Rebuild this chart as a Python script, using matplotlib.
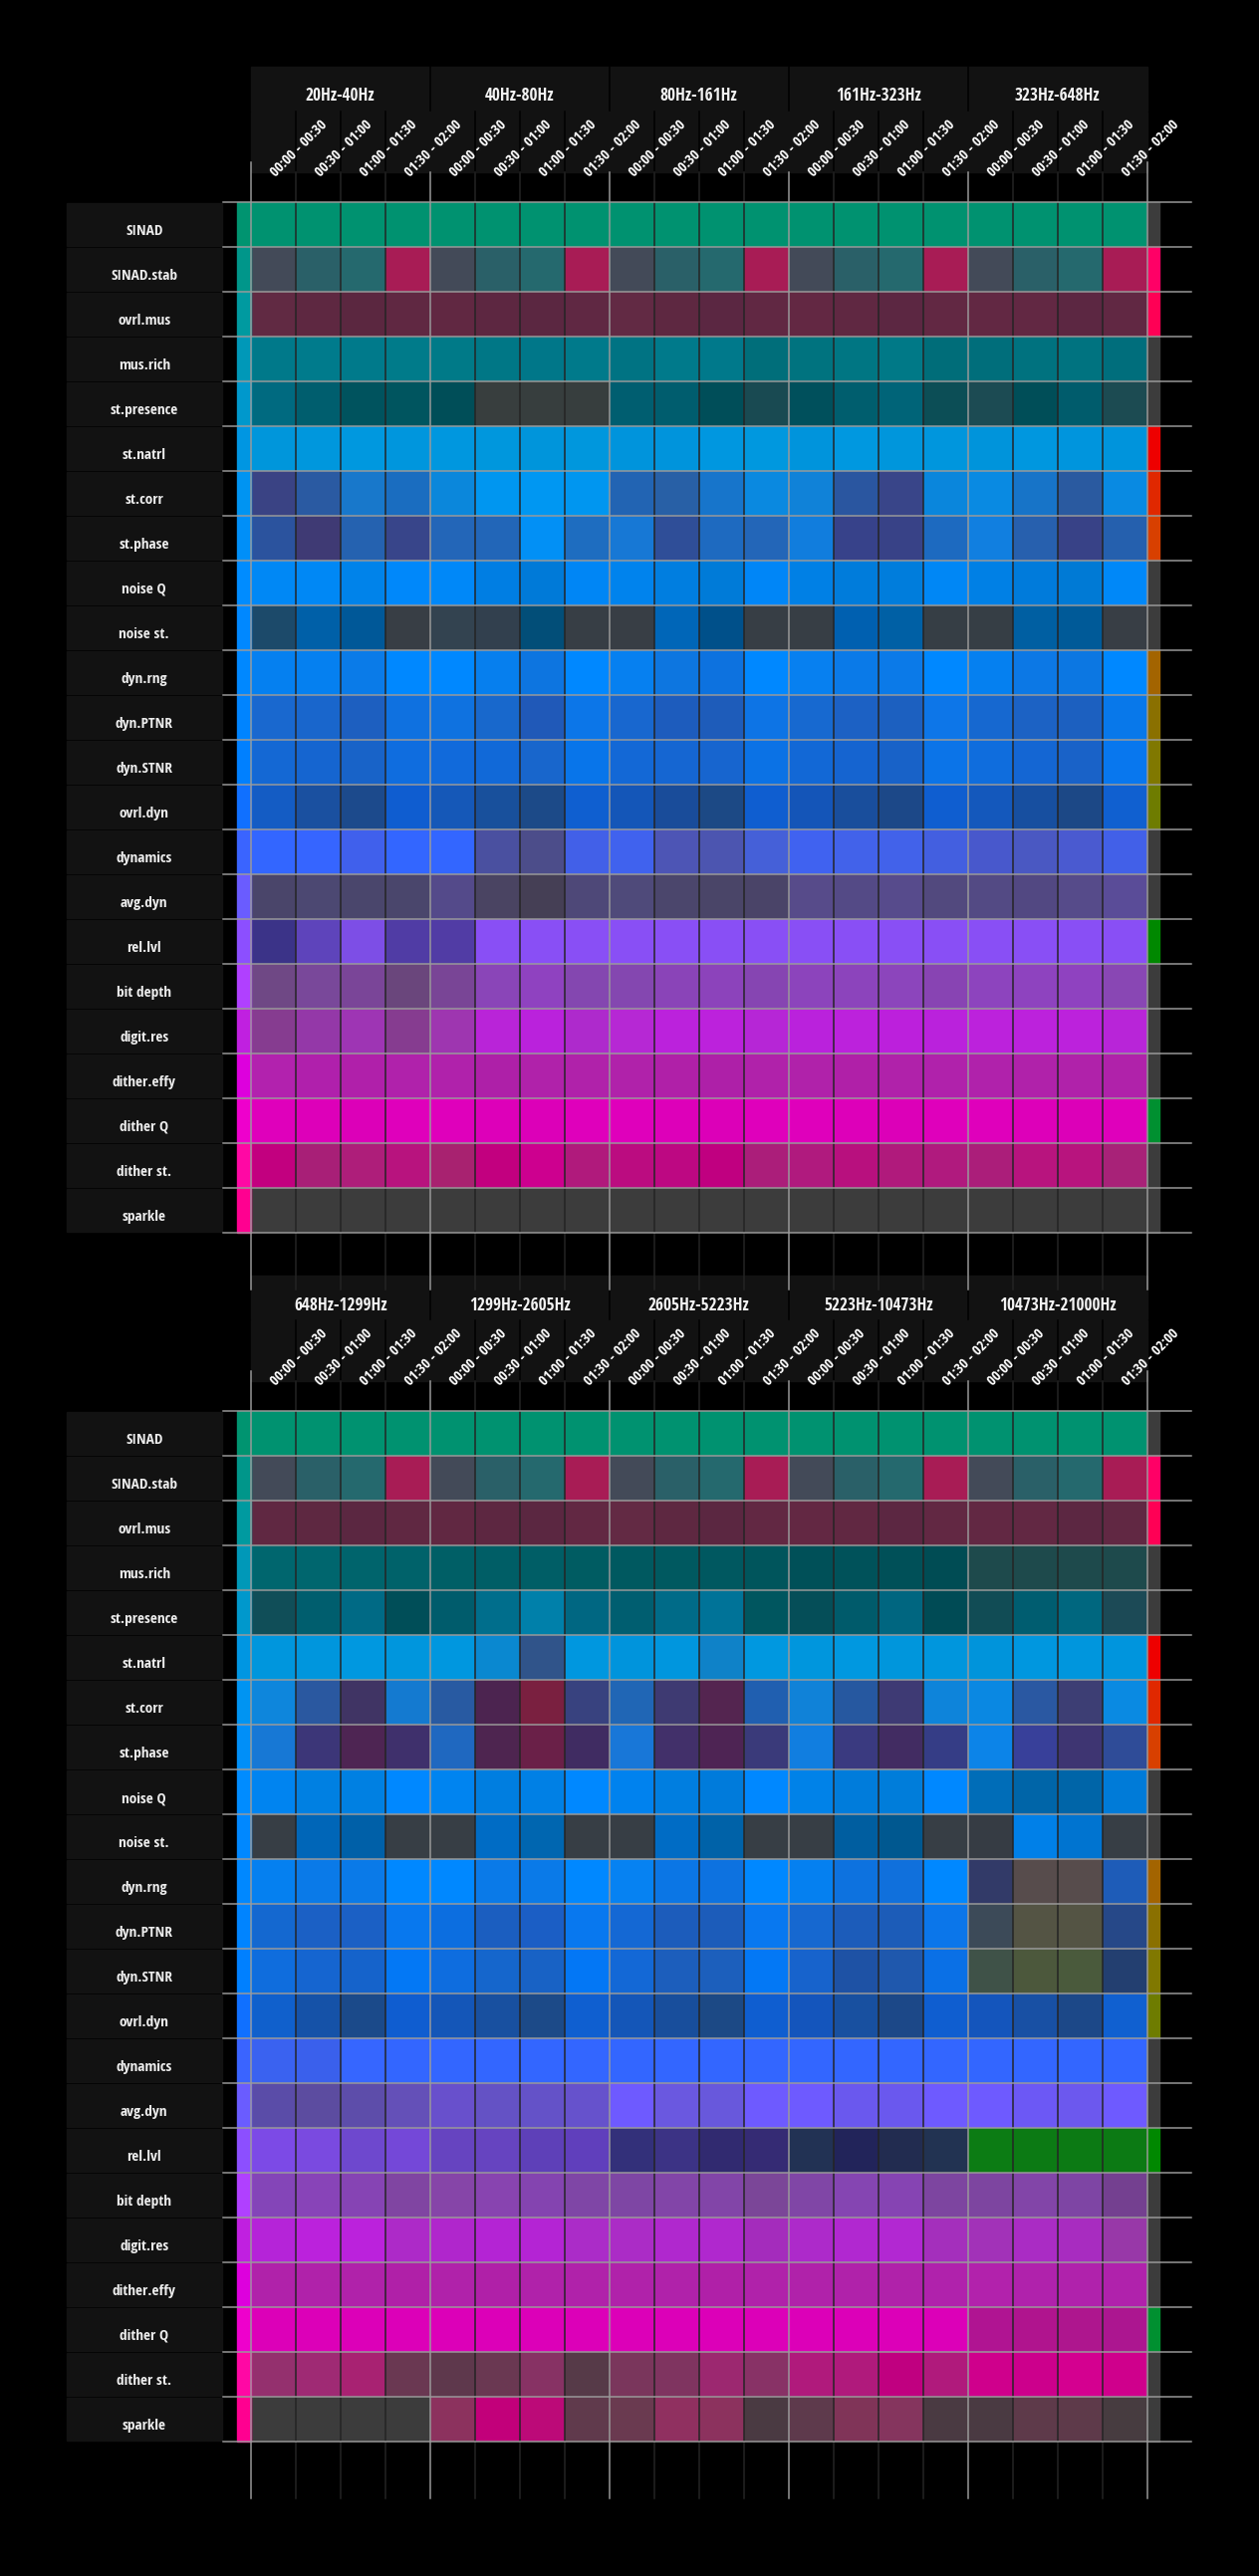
import numpy as np
import matplotlib.pyplot as plt
from matplotlib import font_manager
from matplotlib.colors import to_rgb
from matplotlib.patches import Rectangle

# condensed bold face, the first one that is installed
prefs = ["Open Sans Condensed", "Fira Sans Condensed", "Barlow Condensed", "Asap Condensed"]
bold_names = set()
for f in font_manager.fontManager.ttflist:
    try:
        w = int(f.weight)
    except (TypeError, ValueError):
        w = 700 if "bold" in str(f.weight) else 400
    if w >= 600:
        bold_names.add(f.name)
FONT = next((p for p in prefs if p in bold_names), "DejaVu Sans")
plt.rcParams['font.family'] = [FONT, 'DejaVu Sans']

# ---- data ----
metrics = ["SINAD", "SINAD.stab", "ovrl.mus", "mus.rich", "st.presence", "st.natrl",
           "st.corr", "st.phase", "noise Q", "noise st.", "dyn.rng", "dyn.PTNR",
           "dyn.STNR", "ovrl.dyn", "dynamics", "avg.dyn", "rel.lvl", "bit depth",
           "digit.res", "dither.effy", "dither Q", "dither st.", "sparkle"]

time_slots = ["00:00 - 00:30", "00:30 - 01:00", "01:00 - 01:30", "01:30 - 02:00"]

bands_top = ["20Hz-40Hz", "40Hz-80Hz", "80Hz-161Hz", "161Hz-323Hz", "323Hz-648Hz"]
bands_bottom = ["648Hz-1299Hz", "1299Hz-2605Hz", "2605Hz-5223Hz", "5223Hz-10473Hz",
                "10473Hz-21000Hz"]

# colour of each metric (left strip)
metric_colors = ["#009470", "#00968a", "#009aa0", "#0098b8", "#0098cc", "#0096e2",
                 "#0094f2", "#008ff8", "#008cff", "#0088ff", "#0088ff", "#0084ff",
                 "#0080ff", "#1070ff", "#3a64ff", "#6a5cff", "#8c4fff", "#b040ff",
                 "#c020e0", "#dd00dd", "#ee00cc", "#ff08a4", "#ff0090"]

# flag per metric (right strip)
flag_colors = ["#3c3c3c", "#ff0066", "#ff0055", "#3c3c3c", "#3c3c3c", "#ee0000",
               "#e02800", "#d84000", "#3c3c3c", "#3c3c3c", "#a36400", "#8a7000",
               "#807800", "#6e7c00", "#3c3c3c", "#3c3c3c", "#008800", "#3c3c3c",
               "#3c3c3c", "#3c3c3c", "#009030", "#3c3c3c", "#3c3c3c"]

cells_top = [
    "009270 009270 009270 009270 009270 009270 009270 009270 009270 009270 009270 009270 009270 009270 009270 009270 009270 009270 009270 009270",
    "434a58 2a6068 25696e a81c55 434a58 2a6068 25696e a81c55 434a58 2a6068 25696e a81c55 434a58 2a6068 25696e a81c55 434a58 2a6068 25696e a81c55",
    "612a43 5e2841 5b2740 602842 612842 5d2741 5b2741 602843 622a44 5e2841 5b2742 612843 632843 602842 5c2742 622843 622843 622843 5c2742 612843",
    "00798a 007b8c 007a8b 007b8a 007a88 007786 007789 007a8b 007383 007a8b 00798b 006e7a 00737f 007683 007987 006d79 006e7b 00727f 007380 006e7c",
    "006a80 005e6e 00535e 00555f 004e58 383e3e 373e3e 373e3e 005e70 005d6e 004e59 194a52 00505c 005e6e 006478 0c4e56 1c4b53 004e58 005c6c 1c4b52",
    "0096db 0097dd 0098df 0096dd 0097df 0097dd 0095db 0097dd 0094dc 0094dc 0097e0 0098df 0094dc 0098e0 0096dc 0096dd 0094db 0097df 0095dd 0094dc",
    "3a4384 2a5aa2 1878cb 1a6dc0 0b87db 0096f0 0097f2 0096f0 2264b3 2860a6 1775cb 0a89e0 1082d8 2a56a0 394589 0a86dc 098ae2 1774c8 2a5aa0 098ae2",
    "2b539e 3f3a74 2562b0 38458a 2366b8 2266b8 0290f5 1e6dc0 1778d5 2f4e98 1e6ac0 2366b8 117ddd 37428a 384287 1d6ac0 117fe0 2760ae 384287 2560ae",
    "0088f5 0088f5 0083ea 0088fa 0088f8 007ee3 007ad8 0086f5 0083ed 007ee0 007bd8 0086f7 0080e5 007cdb 007ddc 0087f5 0080e5 007bdb 007ad5 0088f8",
    "1c4a6a 0060a8 005898 383e45 334350 32404e 024e78 373e45 383e45 0066b8 00508a 373e45 373e45 0060b0 0060a5 363e45 363e45 005fa2 005a98 383e45",
    "0580f0 0580f0 0a7be8 0088ff 0088ff 067fee 0d75e0 0088ff 0680f0 0d76e0 0d72df 0088ff 0780f0 0a7ae8 0b7ae8 0088ff 0580f0 0c78e5 0c77e2 0088ff",
    "1968cf 1966cc 1d5fc0 0f71e0 0f72e0 1868cc 2059b8 0c76e8 1867cf 1d5cbd 1e5cba 0d74e5 1769d0 1c61c4 1c60c0 0d76e8 1668d0 1c62c4 1c60c0 0878ea",
    "1468d4 1565d0 1863c8 0f6ddf 116adb 1169d8 1866cc 0875ea 1368d6 1566d2 1765cf 0b72e5 1268d6 1564d0 1862c8 0b74e8 0f6ddd 1466d3 1962c8 0877ee",
    "145cc4 1a50a0 1c4a8c 0f5dd0 1558b8 18509c 1c4a88 0f5fd0 1456b8 194c9a 1c4985 0f5ed0 1455b8 194e9c 1c4888 0f5ed0 1458bc 174fa0 1c4886 1060d0",
    "3366ff 3665ff 4060ec 3366ff 3366ff 4a50a0 4c4d8a 4260e8 4062ee 4d55b5 4c55b0 4560d8 4062f0 4262ea 4262ea 435fe0 4858cc 4a58c2 4a5ad0 4260e8",
    "4a456a 4c4872 4a466c 4a466c 544a8a 4a4462 453f55 4e4878 4f4a7a 4b466c 4a4568 4a4468 574b8a 544a86 574b8c 52497e 534a84 524882 564b8a 5a4c98",
    "3b3388 5e44bb 7d4ee6 503ca5 513ca5 894ff5 894ff5 894ff5 894ff5 894ff5 894ff5 894ff5 894ff5 894ff5 894ff5 894ff5 894ff5 894ff5 894ff5 894ff5",
    "6f4885 79489a 7a4598 6a467c 794596 8a45b8 8f42c0 8447b0 8447b0 8a44b8 8c43bb 8645b2 8c44bc 8c44bc 8c45bc 8844b3 8d44be 8e43bf 8f42c0 8947b4",
    "863c90 9438a8 9e35b4 863c90 9e36b0 b924d8 ba22dc ae2acc b628d4 bb22dc bc22dc b626d6 ba22dc bc22dc bc20dc ba22dc bc22dc bc22dc bc22dc b825d8",
    "b222ae b020ac b020aa b022ab b022ab ae20a8 b022aa b022aa b022aa b020a8 ae20a8 b022aa b022aa b020a8 b022aa b022ab b022ab b022aa b022aa b022aa",
    "df00bb dd00b9 dc00b8 df00bb df00bb dd00b9 dc00b8 df00bb df00bb dd00b9 dc00b8 df00bb df00bb dd00b9 dc00b8 df00bb df00bb dd00b9 dc00b8 df00bb",
    "c2007f a81f77 ae1e7a b8137e a82270 c2007f cd008f b01a7c bb0c80 bd0882 c00080 ab1e7a b01a7e b8107e b01a7c b01a7e ab1e7a b8147e b8147e a82278",
    "3c3c3c 3c3c3c 3c3c3c 3c3c3c 3c3c3c 3c3c3c 3c3c3c 3c3c3c 3c3c3c 3c3c3c 3c3c3c 3c3c3c 3c3c3c 3c3c3c 3c3c3c 3c3c3c 3c3c3c 3c3c3c 3c3c3c 3c3c3c",
]

cells_bottom = [
    "009270 009270 009270 009270 009270 009270 009270 009270 009270 009270 009270 009270 009270 009270 009270 009270 009270 009270 009270 009270",
    "434a58 2a6068 25696e a81c55 434a58 2a6068 25696e a81c55 434a58 2a6068 25696e a81c55 434a58 2a6068 25696e a81c55 434a58 2a6068 25696e a81c55",
    "602842 5e2841 5b2741 602842 612842 5d2741 5b2741 622843 632a44 5e2841 5b2741 622843 632843 612842 5c2742 622843 622843 622843 5c2742 612843",
    "00666e 00666e 00646c 00626a 005f66 005e66 005e66 005c62 005960 005960 005860 00555c 005058 00525a 005058 004c54 1e4a4c 1e4a4c 1e4a4c 1e4a4c",
    "104e58 005e6e 006a85 004e58 005c6c 006e8c 0080aa 006782 005e70 006b88 007398 00565f 054e58 005b6b 006680 004b55 114c55 005d70 00677f 1c4a56",
    "0096dd 0096dd 0098e0 0096dd 0097df 0a88d0 30548a 0097df 0094dc 0096de 0f82c8 0098e0 0096dd 0098e0 0096dc 0096dd 0094db 0097df 0096dd 0095dd",
    "0e86dc 2a58a0 403464 147ad0 285aa2 4c2450 7a2040 38427f 2066b5 3e3a72 542550 205fb0 1082d8 2658a0 3e3a74 0e84da 0a88e2 2a58a2 3d3e74 0a8ae2",
    "1778d5 3c3678 4e2553 3f306c 1f68c0 4e2550 6a2048 402c62 1877d8 42306a 4e2454 3a3a7a 117ee0 3a3a80 422c62 353d86 0c84e8 38409a 3e3572 2f4c98",
    "0084f0 0080e2 0080e2 0088ff 0084f0 007ee0 0080e5 0088ff 0082ee 007ee0 007bdb 0088ff 0082e8 007cdb 007dda 0088ff 006db8 0065a8 0065a8 007bd8",
    "373e45 0066b8 0060a8 373e45 373e45 006cc5 0066b0 373e45 373e45 006cc5 0062a8 373e45 373e45 005ea0 005890 373e45 363c44 0080e8 0074d0 373e45",
    "0580f0 0a7ae8 0a7ae8 0088ff 0088ff 0a7ae8 0a7ae8 0088ff 0682f2 0b76e5 0d72e0 0088ff 0580f0 0d72df 1070dc 0088ff 323a68 574c4c 574c4c 1e5cb8",
    "1468d0 1b60c5 1b60c5 0878ee 0c6ee0 1b5ec0 1b5ec5 0878ef 1468d4 1c5cbb 1c5cba 0878f0 1668d0 1c5cba 1c5cb8 0b76ea 3c4a58 545444 545444 264888",
    "0f6ddd 1565d0 1563cb 0378f5 0e6ddf 1566cc 1862c5 0377f5 1368d6 1c5ebc 1c5fbc 0378f5 1763cc 1e52a5 1f58ad 0a70e6 3f5248 4c583c 4a5a3c 233f70",
    "1060cc 1552a8 1b4a8a 0f5dd0 1456b8 1850a0 1c4a88 0f5fd0 1456b8 184e9c 1c4985 0f5ed0 1455bc 1850a0 1c4888 0f5ed0 1455bc 1850a4 1c4888 1060d0",
    "3a62f0 3a60ec 3666ff 3366ff 3366ff 3366ff 3366ff 3366ff 3366ff 3366ff 3366ff 3366ff 3366ff 3366ff 3366ff 3366ff 3366ff 3366ff 3366ff 3366ff",
    "5a4ca8 5c4ca0 5d4daa 6450b8 6850cc 6452c5 6452c8 6652cc 6e5aff 6a58e0 6858dc 6e5aff 6e5aff 6a58ee 6a58ee 6e5aff 6e5aff 6c58f5 6c58ee 6e5aff",
    "7c4ae6 7a4ae0 6e48ce 7448d8 6644c0 6644c0 5e40b8 603fbc 33307a 3c3385 312a70 352b74 223254 22245a 222c50 223352 0c7c14 0c7a14 0c7a14 0c7a14",
    "8445b8 8844b8 8644b4 8045a2 8645a8 8844b0 8444b0 7f46a6 7e46a4 8245a8 8245a8 7b4698 8046a6 8545b2 8644b3 7d45a0 7d45a0 8245a8 7e45a4 744090",
    "b524d8 bb22dc bb22dc ad2ac8 b026cc b424d4 b424d4 ab2cc8 ab2cc6 b028ce b028ce a42cbc ad2aca b128d0 b228d2 a42fbc a232b8 aa2cc4 a82cc0 9838a8",
    "b022aa b022aa b022aa b020a8 b022aa b020a8 b022aa b022aa b022aa b022aa b020a8 b022aa b022aa b022aa b022aa b022ac b222ac b022ac b022ac b022ac",
    "dc00b8 dc00b8 dc00b8 dc00b8 dc00b8 dc00b8 dc00b8 dc00b8 dc00b8 dc00b8 dc00b8 dc00b8 dc00b8 dc00b8 dc00b8 dc00b8 b01492 b0148e ae168e ac1690",
    "94306e 9f2a74 a82272 6a3852 5e384c 6a3852 873264 563a48 7a365c 7f3460 9c2870 883266 b01a7c b01a7c c00080 b01a7c cf008c cc008c d40090 cf008c",
    "3c3c3c 3c3c3c 3c3c3c 3c3c3c 8c325e c2007a bc0a78 603a4c 6a3a50 903060 8c325e 4a3a42 5e3a4c 803458 85355e 4a3a42 4a3a42 5e3a4a 5e3a4a 473c40",
]

# ---- layout (pixels) ----
W, H = 1264, 2587
CELL = 45
GRID_X = 251.7
LABEL_X0, LABEL_X1 = 66.7, 222.7
STRIP_X = 238.0
LINE_X0, LINE_X1 = 224, 1196
PX = 0.72  # one pixel in points at dpi 100

fig = plt.figure(figsize=(W / 100, H / 100), dpi=100, facecolor="black")
ax = fig.add_axes([0, 0, 1, 1])
ax.set_facecolor("black")
ax.axis("off")


def draw_panel(top, bands, cells):
    nrow = len(metrics)
    ncol = len(bands) * len(time_slots)
    bottom = top + nrow * CELL
    right = GRID_X + ncol * CELL

    # cells
    rgb = np.array([[to_rgb("#" + c) for c in row.split()] for row in cells])
    ax.imshow(rgb, extent=(GRID_X, right, bottom, top), interpolation="nearest",
              aspect="auto", zorder=1)

    # header bands
    ax.add_patch(Rectangle((GRID_X, top - 136), ncol * CELL, 44, color="#121212", zorder=0.5))
    ax.add_patch(Rectangle((GRID_X, top - 91), ncol * CELL, 61, color="#121212", zorder=0.5))
    for g, name in enumerate(bands):
        if g > 0:
            gx = GRID_X + g * len(time_slots) * CELL
            ax.plot([gx, gx], [top - 136, top - 92], color="black", lw=1.5 * PX, zorder=0.6)
        cx = GRID_X + (g + 0.5) * len(time_slots) * CELL
        ax.text(cx, top - 101.5, name, ha="center", va="baseline", fontsize=12.4,
                fontweight="bold", color="#f2f2f2", zorder=5)

    # time labels
    for j in range(ncol):
        ax.text(GRID_X + j * CELL + 25, top - 25, time_slots[j % len(time_slots)],
                rotation=45, rotation_mode="anchor", ha="left", va="baseline",
                fontsize=10.6, fontweight="bold", color="white", zorder=6)

    # row labels and strips
    for i, name in enumerate(metrics):
        y = top + i * CELL
        ax.add_patch(Rectangle((LABEL_X0, y + 1), LABEL_X1 - LABEL_X0, CELL - 2,
                               color="#121212", zorder=0.5))
        ax.text((LABEL_X0 + LABEL_X1) / 2, y + 33, name, ha="center", va="baseline",
                fontsize=11.1, fontweight="bold", color="#ececec", zorder=5)
        ax.add_patch(Rectangle((STRIP_X, y), GRID_X - STRIP_X, CELL,
                               color=metric_colors[i], zorder=1))
        ax.add_patch(Rectangle((right, y), 12.3, CELL, color=flag_colors[i], zorder=1))

    # vertical lines
    for j in range(ncol + 1):
        x = GRID_X + j * CELL
        if j % len(time_slots) == 0:
            y0 = top - 40 if j in (0, ncol) else top - 30
            ax.plot([x, x], [y0, bottom + 57], color="#9a9a9a", lw=1.5 * PX, zorder=3)
        else:
            ax.plot([x, x], [top - 91, top - 30], color="black", lw=1.5 * PX, zorder=0.6)
            ax.plot([x, x], [top - 30, bottom + 57], color="#242424", lw=1.5 * PX, zorder=2.9)

    # horizontal lines
    for i in range(nrow + 1):
        y = top + i * CELL
        ax.plot([LINE_X0, LINE_X1], [y, y], color="#9a9a9a", lw=1.5 * PX, zorder=3.1)


draw_panel(202.7, bands_top, cells_top)
draw_panel(1417.0, bands_bottom, cells_bottom)

ax.set_xlim(0, W)
ax.set_ylim(H, 0)

fig.savefig("out.png", dpi=100, facecolor="black")
